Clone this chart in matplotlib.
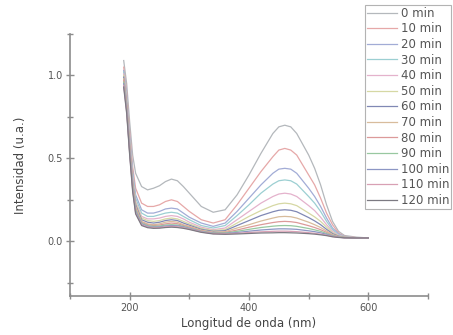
import matplotlib
matplotlib.use("Agg")
import matplotlib.pyplot as plt
from matplotlib.ticker import MultipleLocator, FormatStrFormatter

plt.rcParams['font.family'] = ['DejaVu Sans']

# Wavelength grid (nm)
wavelength = [190, 195, 200, 205, 210, 220, 230, 240, 250, 260, 270, 280, 290, 300,
              320, 340, 360, 380, 400, 420, 440, 450, 460, 470, 480, 500, 510, 520,
              530, 540, 550, 560, 580, 600]

times = ["0 min", "10 min", "20 min", "30 min", "40 min", "50 min", "60 min",
         "70 min", "80 min", "90 min", "100 min", "110 min", "120 min"]

# Absorbance spectra, one row per irradiation time
spectra = [
    [1.09, 0.95, 0.72, 0.52, 0.41, 0.33, 0.31, 0.32, 0.335, 0.36, 0.375, 0.365, 0.33, 0.29,
     0.21, 0.175, 0.19, 0.28, 0.40, 0.53, 0.65, 0.69, 0.70, 0.69, 0.65, 0.52, 0.44, 0.34,
     0.22, 0.12, 0.06, 0.035, 0.025, 0.02],
    [1.05, 0.90, 0.66, 0.45, 0.32, 0.23, 0.21, 0.21, 0.22, 0.24, 0.25, 0.24, 0.21, 0.18,
     0.13, 0.11, 0.13, 0.22, 0.32, 0.42, 0.51, 0.55, 0.56, 0.55, 0.52, 0.40, 0.34, 0.26,
     0.17, 0.10, 0.05, 0.03, 0.022, 0.02],
    [1.03, 0.88, 0.63, 0.42, 0.28, 0.19, 0.17, 0.17, 0.18, 0.195, 0.20, 0.195, 0.17, 0.145,
     0.11, 0.09, 0.11, 0.18, 0.26, 0.34, 0.41, 0.435, 0.44, 0.435, 0.41, 0.32, 0.27, 0.21,
     0.14, 0.08, 0.045, 0.028, 0.02, 0.02],
    [1.02, 0.86, 0.61, 0.40, 0.26, 0.17, 0.15, 0.15, 0.16, 0.17, 0.175, 0.17, 0.15, 0.13,
     0.095, 0.08, 0.095, 0.155, 0.22, 0.29, 0.345, 0.365, 0.37, 0.365, 0.345, 0.27, 0.23, 0.18,
     0.12, 0.07, 0.04, 0.027, 0.02, 0.02],
    [1.01, 0.85, 0.60, 0.38, 0.24, 0.15, 0.135, 0.135, 0.14, 0.15, 0.155, 0.15, 0.135, 0.115,
     0.085, 0.07, 0.08, 0.13, 0.18, 0.23, 0.27, 0.285, 0.29, 0.285, 0.27, 0.215, 0.185, 0.145,
     0.10, 0.06, 0.036, 0.026, 0.02, 0.02],
    [1.00, 0.84, 0.59, 0.37, 0.23, 0.14, 0.125, 0.12, 0.125, 0.135, 0.14, 0.135, 0.12, 0.105,
     0.078, 0.065, 0.07, 0.11, 0.15, 0.185, 0.215, 0.226, 0.23, 0.226, 0.215, 0.17, 0.147, 0.12,
     0.085, 0.052, 0.033, 0.025, 0.02, 0.02],
    [0.99, 0.83, 0.58, 0.36, 0.22, 0.13, 0.115, 0.11, 0.115, 0.125, 0.13, 0.125, 0.11, 0.097,
     0.072, 0.06, 0.064, 0.095, 0.125, 0.155, 0.178, 0.187, 0.19, 0.187, 0.178, 0.143, 0.123, 0.10,
     0.072, 0.046, 0.031, 0.024, 0.02, 0.02],
    [0.98, 0.82, 0.57, 0.35, 0.21, 0.12, 0.105, 0.10, 0.105, 0.115, 0.12, 0.115, 0.10, 0.09,
     0.067, 0.055, 0.058, 0.08, 0.10, 0.122, 0.14, 0.148, 0.15, 0.148, 0.14, 0.115, 0.10, 0.083,
     0.062, 0.04, 0.029, 0.023, 0.02, 0.02],
    [0.97, 0.81, 0.56, 0.34, 0.20, 0.115, 0.10, 0.095, 0.098, 0.105, 0.11, 0.106, 0.095, 0.085,
     0.063, 0.052, 0.053, 0.068, 0.085, 0.10, 0.113, 0.118, 0.12, 0.118, 0.113, 0.094, 0.083, 0.07,
     0.054, 0.036, 0.027, 0.022, 0.02, 0.02],
    [0.96, 0.80, 0.55, 0.33, 0.19, 0.11, 0.095, 0.09, 0.092, 0.098, 0.10, 0.098, 0.09, 0.08,
     0.06, 0.05, 0.05, 0.06, 0.072, 0.083, 0.091, 0.094, 0.095, 0.094, 0.09, 0.077, 0.069, 0.06,
     0.047, 0.034, 0.026, 0.022, 0.02, 0.02],
    [0.95, 0.79, 0.54, 0.32, 0.18, 0.105, 0.09, 0.085, 0.087, 0.092, 0.095, 0.093, 0.086, 0.077,
     0.058, 0.048, 0.047, 0.053, 0.061, 0.068, 0.073, 0.075, 0.075, 0.074, 0.072, 0.063, 0.058, 0.051,
     0.042, 0.031, 0.025, 0.021, 0.02, 0.02],
    [0.94, 0.78, 0.53, 0.31, 0.17, 0.10, 0.086, 0.082, 0.083, 0.088, 0.09, 0.088, 0.082, 0.074,
     0.056, 0.046, 0.045, 0.048, 0.053, 0.057, 0.06, 0.061, 0.061, 0.06, 0.058, 0.052, 0.048, 0.043,
     0.037, 0.029, 0.024, 0.021, 0.02, 0.02],
    [0.93, 0.77, 0.52, 0.30, 0.165, 0.095, 0.082, 0.078, 0.079, 0.083, 0.085, 0.083, 0.078, 0.071,
     0.054, 0.044, 0.042, 0.044, 0.047, 0.05, 0.051, 0.052, 0.052, 0.051, 0.05, 0.046, 0.043, 0.039,
     0.034, 0.027, 0.023, 0.021, 0.02, 0.02],
]

colors = ["#b4b8bc", "#e6a8a8", "#a2acd6", "#9ccfd2", "#e4b2cc", "#d6d8a4", "#8088b4",
          "#d8bc9c", "#dc9a9a", "#98c8a0", "#8c96c4", "#d8a0b4", "#7c7a82"]

fig = plt.figure(figsize=(4.53, 3.35), dpi=100)
ax = fig.add_axes([70 / 453, 39 / 335, 358 / 453, 262 / 335])

for label, values, color in zip(times, spectra, colors):
    ax.plot(wavelength, values, color=color, lw=0.9, label=label)

ax.set_xlim(100, 700)
ax.set_ylim(-0.33, 1.25)

ax.xaxis.set_major_locator(MultipleLocator(200))
ax.xaxis.set_minor_locator(MultipleLocator(100))
ax.yaxis.set_major_locator(MultipleLocator(0.5))
ax.yaxis.set_minor_locator(MultipleLocator(0.25))
ax.yaxis.set_major_formatter(FormatStrFormatter('%.1f'))

for side in ("top", "right"):
    ax.spines[side].set_visible(False)
for side in ("left", "bottom"):
    ax.spines[side].set_color("#8c8c8c")
    ax.spines[side].set_linewidth(1.2)

ax.tick_params(which="both", direction="inout", color="#8c8c8c", width=1.0,
               labelsize=7, labelcolor="#555555")
ax.tick_params(which="major", length=6, pad=2)
ax.tick_params(which="minor", length=4)

ax.set_xlabel("Longitud de onda (nm)", fontsize=8.5, color="#444444", labelpad=3)
ax.set_ylabel("Intensidad (u.a.)", fontsize=8.5, color="#444444", labelpad=15)

leg = ax.legend(loc="upper left", bbox_to_anchor=(365 / 453, 1 - 5 / 335),
                bbox_transform=fig.transFigure, fontsize=8.5, frameon=True,
                fancybox=False, edgecolor="#a0a0a0", handlelength=2.55,
                handletextpad=0.35, labelspacing=0.22, borderpad=0.15,
                borderaxespad=0)
leg.get_frame().set_linewidth(0.8)
for text in leg.get_texts():
    text.set_color("#555555")

fig.savefig("out.png", dpi=100)
